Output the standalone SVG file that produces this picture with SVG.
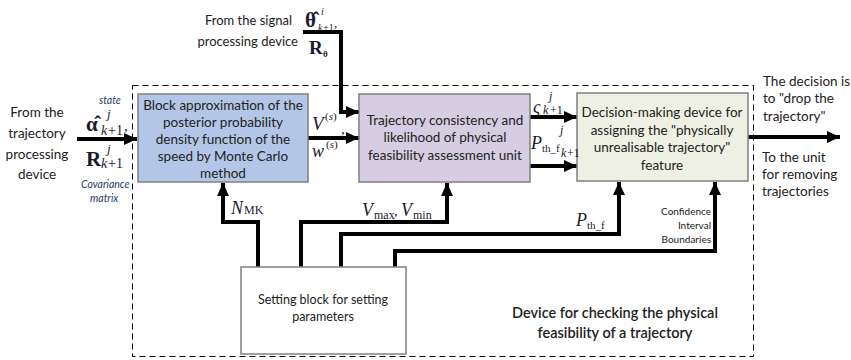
<svg xmlns="http://www.w3.org/2000/svg" width="851" height="360" viewBox="0 0 851 360">
<style>
.t{font-family:Lato,"Open Sans","Liberation Sans",sans-serif;font-size:13.5px;fill:#222}
.c{text-anchor:middle}
.box{stroke:#808080;stroke-width:1.5}
.con{fill:none;stroke:#000;stroke-width:4}
.m{font-family:"Liberation Serif","Times New Roman",serif;fill:#1a1a2e}
.mi{font-family:"Liberation Serif","Times New Roman",serif;font-style:italic;fill:#1a1a2e}
.bl{font-family:Lato,"Liberation Sans",sans-serif;font-style:italic;font-size:10.5px;fill:#2a3a6a}
.sm{font-family:Lato,"Liberation Sans",sans-serif;font-size:10px;fill:#222;text-anchor:end}
</style>
<defs>
<marker id="ah" markerUnits="userSpaceOnUse" markerWidth="13" markerHeight="12" refX="13" refY="6" orient="auto">
<path d="M0,0 L13,6 L0,12 z" fill="#000"/>
</marker>
</defs>
<rect x="132.5" y="85.5" width="621" height="271" fill="none" stroke="#000" stroke-width="1" stroke-dasharray="6,4"/>
<g id="connectors">
<line class="con" x1="77" y1="139" x2="137" y2="139" marker-end="url(#ah)"/>
<polyline class="con" points="303,32 341,32 341,112 359,112" marker-end="url(#ah)"/>
<line class="con" x1="308" y1="138" x2="359" y2="138" marker-end="url(#ah)"/>
<line class="con" x1="530" y1="117" x2="577" y2="117" marker-end="url(#ah)"/>
<line class="con" x1="530" y1="166" x2="577" y2="166" marker-end="url(#ah)"/>
<line class="con" x1="748" y1="137" x2="840" y2="137" marker-end="url(#ah)"/>
<polyline class="con" points="258,267 258,222 223,222 223,183" marker-end="url(#ah)"/>
<polyline class="con" points="301,267 301,222 447,222 447,183" marker-end="url(#ah)"/>
<polyline class="con" points="341,267 341,234 619,234 619,182" marker-end="url(#ah)"/>
<polyline class="con" points="395,267 395,251 715,251 715,182" marker-end="url(#ah)"/>
</g>
<g id="block1">
<rect class="box" x="138" y="94" width="170" height="88" fill="#b4c6e7"/>
<text class="t c" x="223" y="110">Block approximation of the</text>
<text class="t c" x="223" y="127">posterior probability</text>
<text class="t c" x="223" y="144">density function of the</text>
<text class="t c" x="223" y="161">speed by Monte Carlo</text>
<text class="t c" x="223" y="178">method</text>
</g>
<g id="block2">
<rect class="box" x="359" y="94" width="171" height="88" fill="#d6cde2"/>
<text class="t c" x="445" y="125">Trajectory consistency and</text>
<text class="t c" x="445" y="142">likelihood of physical</text>
<text class="t c" x="445" y="160">feasibility assessment unit</text>
</g>
<g id="block3">
<rect class="box" x="577" y="93" width="171" height="88" fill="#eef0e3"/>
<text class="t c" x="662" y="117">Decision-making device for</text>
<text class="t c" x="662" y="135">assigning the "physically</text>
<text class="t c" x="662" y="152">unrealisable trajectory"</text>
<text class="t c" x="662" y="170">feature</text>
</g>
<g id="settings">
<rect class="box" x="241" y="267" width="165" height="87" fill="#fff"/>
<text class="t c" x="323" y="304" style="font-size:12.5px">Setting block for setting</text>
<text class="t c" x="323" y="321" style="font-size:12.5px">parameters</text>
</g>
<g id="labels">
<text class="t c" x="37" y="117">From the</text>
<text class="t c" x="37" y="138">trajectory</text>
<text class="t c" x="37" y="159">processing</text>
<text class="t c" x="37" y="179">device</text>
<text class="bl" x="99" y="104">state</text>
<text class="m" x="86" y="131" font-size="21" font-weight="bold">α̂</text>
<text class="mi" x="107" y="118" font-size="13">j</text>
<text class="mi" x="101" y="135" font-size="14">k</text>
<text class="m" x="108" y="135" font-size="14">+1</text>
<text class="m" x="124" y="131" font-size="15">,</text>
<text class="m" x="86" y="166" font-size="21" font-weight="bold">R</text>
<text class="mi" x="107" y="153" font-size="13">j</text>
<text class="mi" x="101" y="168" font-size="14">k</text>
<text class="m" x="108" y="168" font-size="14">+1</text>
<text class="bl" x="81" y="188">Covariance</text>
<text class="bl" x="90" y="202">matrix</text>
<text class="t" x="292" y="25" text-anchor="end" style="font-size:13px">From the signal</text>
<text class="t" x="298" y="46" text-anchor="end" style="font-size:13px">processing device</text>
<text class="m" x="305" y="27" font-size="21" font-weight="bold">θ̂</text>
<text class="mi" x="321" y="15" font-size="10">i</text>
<text class="mi" x="318" y="31" font-size="10">k</text>
<text class="m" x="323" y="31" font-size="10">+1</text>
<text class="m" x="334" y="27" font-size="13">,</text>
<text class="m" x="309" y="54" font-size="19" font-weight="bold">R</text>
<text class="m" x="323" y="57" font-size="9" font-weight="bold">θ</text>
<text class="mi" x="312" y="130" font-size="19">V</text>
<text class="m" x="325" y="120" font-size="11">(<tspan font-style="italic">s</tspan>)</text>
<text class="m" x="341" y="134" font-size="15">,</text>
<text class="mi" x="312" y="157" font-size="18">w</text>
<text class="m" x="326" y="148" font-size="11">(<tspan font-style="italic">s</tspan>)</text>
<text class="mi" x="533" y="113" font-size="18">ς</text>
<text class="mi" x="549" y="100" font-size="12">j</text>
<text class="mi" x="543" y="114" font-size="12">k</text>
<text class="m" x="550" y="114" font-size="12">+1</text>
<text class="mi" x="531" y="149" font-size="18">P</text>
<text class="m" x="542" y="152" font-size="11">th_f</text>
<text class="mi" x="560" y="134" font-size="12">j</text>
<text class="mi" x="561" y="157" font-size="12">k</text>
<text class="m" x="567" y="157" font-size="12">+1</text>
<text class="t" x="763" y="86">The decision is</text>
<text class="t" x="763" y="103">to "drop the</text>
<text class="t" x="763" y="121">trajectory"</text>
<text class="t" x="762" y="162">To the unit</text>
<text class="t" x="762" y="179">for removing</text>
<text class="t" x="762" y="196">trajectories</text>
<text class="mi" x="231" y="214" font-size="18">N</text>
<text class="m" x="244" y="214" font-size="12">MK</text>
<text class="mi" x="362" y="216" font-size="18">V</text>
<text class="m" x="374" y="219" font-size="12">max</text>
<text class="m" x="394" y="216" font-size="14">,</text>
<text class="mi" x="401" y="216" font-size="18">V</text>
<text class="m" x="413" y="219" font-size="12">min</text>
<text class="mi" x="576" y="226" font-size="18">P</text>
<text class="m" x="587" y="229" font-size="11">th_f</text>
<text class="sm" x="711" y="215">Confidence</text>
<text class="sm" x="711" y="229">Interval</text>
<text class="sm" x="711" y="243">Boundaries</text>
<text class="t c" x="615" y="318" style="font-size:14.5px;font-weight:600">Device for checking the physical</text>
<text class="t c" x="615" y="338" style="font-size:14.5px;font-weight:600">feasibility of a trajectory</text>
</g>
</svg>
